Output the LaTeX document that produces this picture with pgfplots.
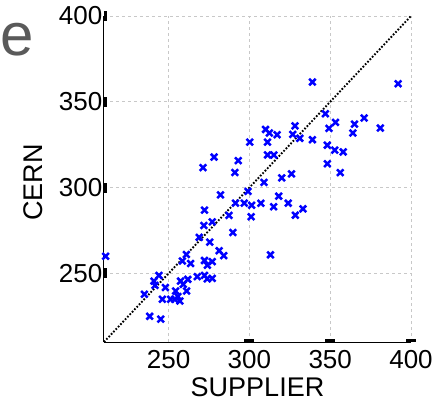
\documentclass[border=0pt]{standalone}
\usepackage{fontspec}
\setmainfont{Liberation Sans}
\usepackage{pgfplots}
\pgfplotsset{compat=1.18}
\usetikzlibrary{calc}
\definecolor{gridgray}{HTML}{C8C8C8}
\definecolor{panelgray}{HTML}{5A5A5A}

\begin{document}
\begin{tikzpicture}
\begin{axis}[
    scale only axis, width=307pt, height=326pt,
    xmin=210, xmax=400, ymin=210, ymax=400,
    clip=false,
    axis x line*=bottom, axis y line*=left,
    axis line style={line width=1pt, -},
    xtick={300,350,400}, ytick={250,300,350,400},
    extra x ticks={250},
    extra x tick style={grid=major, xtick style={draw=none}},
    tick align=inside, major tick length=3pt,
    xtick style={black, line width=10pt},
    ytick style={black, line width=10pt},
    grid=major, grid style={gridgray, dashed, line width=0.6pt},
    /pgf/number format/assume math mode=true,
    tick label style={font=\fontsize{26}{28}\selectfont, inner sep=1.5pt},
    xticklabel style={yshift=-7pt},
    label style={font=\fontsize{27}{29}\selectfont},
    xlabel={SUPPLIER}, ylabel={CERN},
    xlabel style={at={(axis description cs:0.5,0)}, anchor=base, yshift=-54pt},
    ylabel style={at={(axis description cs:0,0.49)}, anchor=center, yshift=71pt},
]
\coordinate (ll) at (rel axis cs:0,0);
\addplot[black, line width=1.9pt, dash pattern=on 1.7pt off 1.7pt]
coordinates {(210,210) (400,400)};
\addplot[only marks, mark=x, mark size=4.6pt, blue, mark options={line width=2.5pt}]
coordinates {
(339,361.5) (392,360.5) (347,343) (353.3,338) (349.2,334.5) (365,337)
(364,331.8) (371,340.6) (381,334.7) (328.2,336) (310,333.9) (312.3,331.8)
(317.1,330.8) (326.8,331) (331.2,328.7) (339,327.9) (311.2,326.5) (300.2,326.5)
(348.2,324.7) (352.8,321.8) (358,320.8) (311.2,319) (315.1,319) (278.1,317.8)
(271.3,311.6) (293.1,315.7) (291,308.8) (348.2,313.9) (356.2,308.7) (309,303)
(320,305.6) (326,308) (282.1,295.8) (299.1,297.8) (318.1,295) (291.4,290.9)
(296.8,290.9) (301.4,289.7) (307.1,290.9) (315,288.8) (324,290.9) (333.1,287.6)
(328.4,283.9) (301.1,283) (287.4,283.8) (272.2,286.9) (271.8,277.9) (277,280)
(289.8,273.8) (268.9,271) (275.4,268.2) (281.3,263.2) (284.1,260.3) (313,260.8)
(272.2,257.5) (277,256.8) (274,254.7) (272.2,248.8) (277,247.1) (273.9,246.8)
(267.7,248.1) (261,261) (258.5,257.2) (263.6,255.7) (211,260) (244,248.8)
(240.9,245.5) (241.5,243) (248,241.8) (235,237.8) (246.1,234.9) (251.2,234.9)
(257.4,245.5) (259,243.6) (261.9,246.5) (261.1,239.7) (254.3,239.7) (255.7,236.5)
(253.7,234.9) (257,233.9) (238.3,225) (245.1,223.3)
};
\node[anchor=west, text=panelgray, font=\fontsize{60}{60}\selectfont, inner sep=0pt]
  at (axis description cs:-0.339,0.926) {e};
\end{axis}
\pgfresetboundingbox
\path ($(ll)+(-104pt,-59pt)$) rectangle ($(ll)+(337pt,342pt)$);
\end{tikzpicture}
\end{document}
